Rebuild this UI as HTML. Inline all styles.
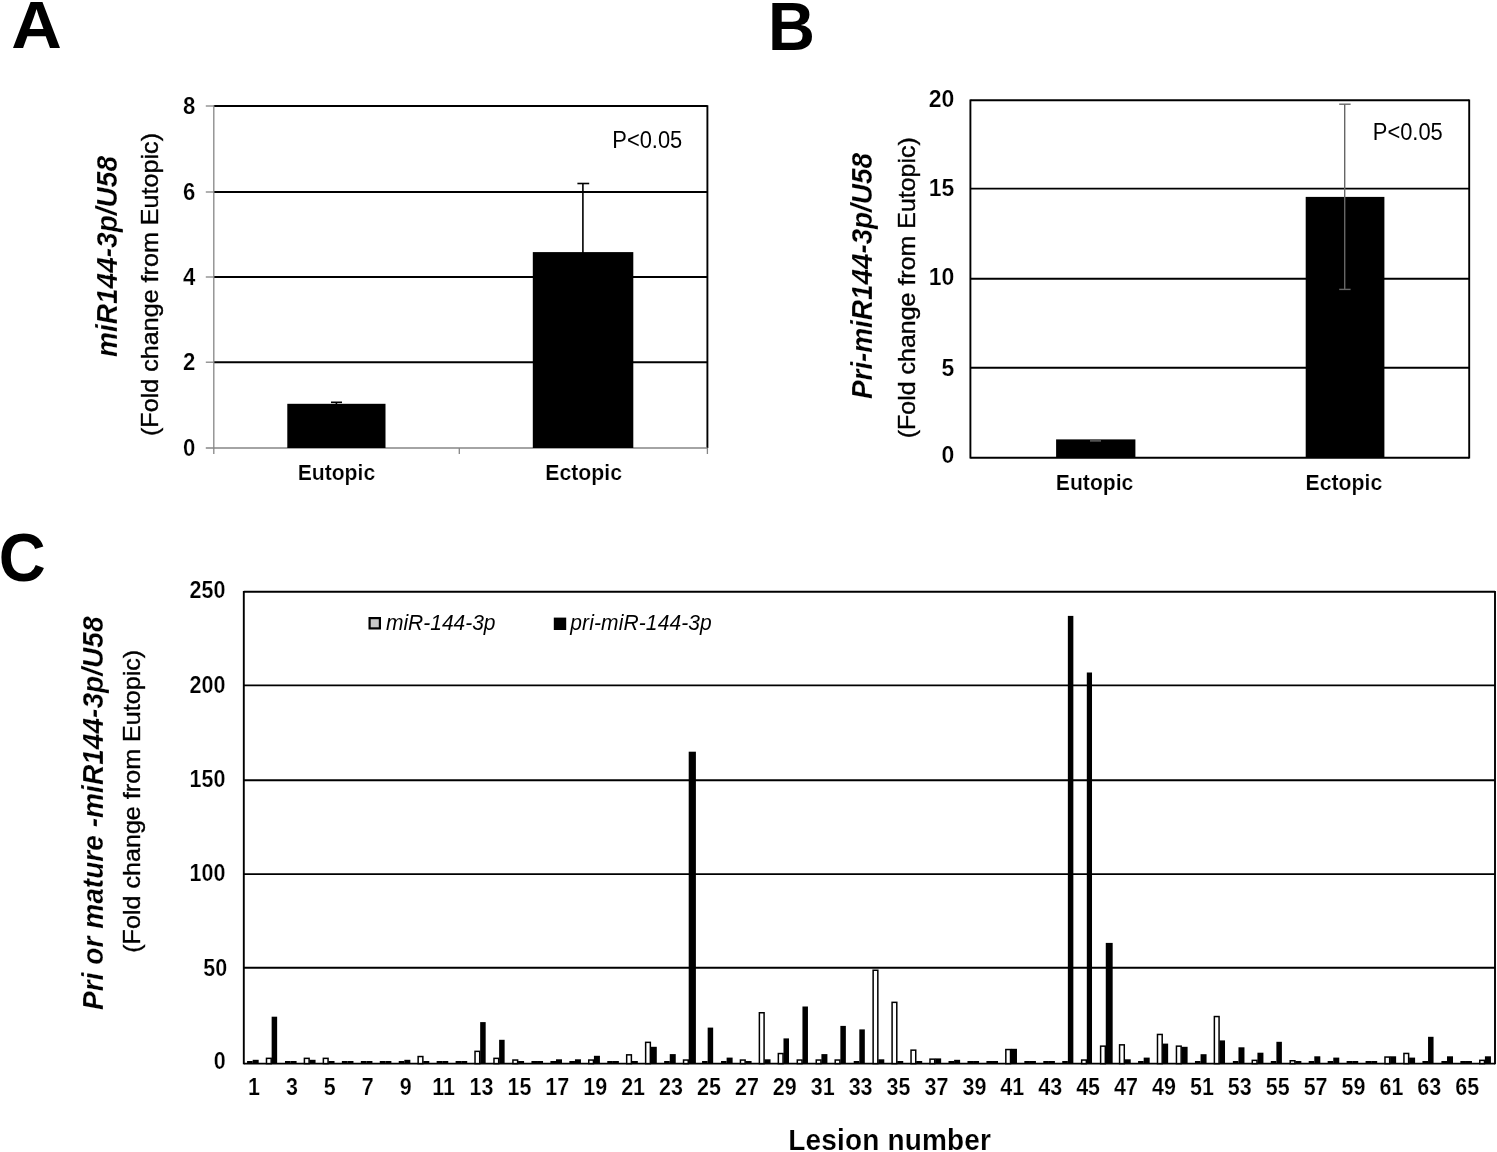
<!DOCTYPE html>
<html lang="en">
<head>
<meta charset="utf-8">
<title>Figure</title>
<style>
html,body{margin:0;padding:0;background:#fff;}
body{width:1497px;height:1152px;overflow:hidden;}
svg{display:block;font-family:"Liberation Sans", sans-serif;}
</style>
</head>
<body>
<svg width="1497" height="1152" viewBox="0 0 1497 1152">
<rect width="1497" height="1152" fill="#fff"/>
<g id="panelA">
<text transform="translate(11.25 48.2) scale(1.078 1.04)" font-size="65" font-weight="bold">A</text>
<line x1="213.8" y1="106" x2="707.4" y2="106" stroke="#000" stroke-width="1.9"/>
<line x1="213.8" y1="192" x2="707.4" y2="192" stroke="#000" stroke-width="1.9"/>
<line x1="213.8" y1="277" x2="707.4" y2="277" stroke="#000" stroke-width="1.9"/>
<line x1="213.8" y1="362.2" x2="707.4" y2="362.2" stroke="#000" stroke-width="1.9"/>
<line x1="707.4" y1="105.25" x2="707.4" y2="448" stroke="#000" stroke-width="1.9"/>
<line x1="213.8" y1="105.25" x2="213.8" y2="454" stroke="#868686" stroke-width="1.3"/>
<line x1="205.8" y1="448" x2="707.4" y2="448" stroke="#868686" stroke-width="1.3"/>
<line x1="205.8" y1="106" x2="213.8" y2="106" stroke="#868686" stroke-width="1.3"/>
<line x1="205.8" y1="192" x2="213.8" y2="192" stroke="#868686" stroke-width="1.3"/>
<line x1="205.8" y1="277" x2="213.8" y2="277" stroke="#868686" stroke-width="1.3"/>
<line x1="205.8" y1="362.2" x2="213.8" y2="362.2" stroke="#868686" stroke-width="1.3"/>
<line x1="459.3" y1="448" x2="459.3" y2="454" stroke="#868686" stroke-width="1.3"/>
<line x1="707.4" y1="448" x2="707.4" y2="454" stroke="#868686" stroke-width="1.3"/>
<rect x="287.30" y="403.80" width="98.20" height="44.20" fill="#000"/>
<rect x="532.80" y="252.10" width="100.50" height="195.90" fill="#000"/>
<line x1="582.9" y1="183.5" x2="582.9" y2="253" stroke="#000" stroke-width="1.6"/>
<line x1="577.4" y1="183.5" x2="589.2" y2="183.5" stroke="#000" stroke-width="1.6"/>
<line x1="336.4" y1="402.3" x2="336.4" y2="404" stroke="#000" stroke-width="1.6"/>
<line x1="331" y1="402.3" x2="342" y2="402.3" stroke="#000" stroke-width="1.6"/>
<text transform="translate(195.4 113.7) scale(1.03 1.14)" font-size="21.5" font-weight="bold" text-anchor="end" fill="#000" stroke="#fff" stroke-width="0.2">8</text>
<text transform="translate(195.4 199.60000000000002) scale(1.03 1.14)" font-size="21.5" font-weight="bold" text-anchor="end" fill="#000" stroke="#fff" stroke-width="0.2">6</text>
<text transform="translate(195.4 284.5) scale(1.03 1.14)" font-size="21.5" font-weight="bold" text-anchor="end" fill="#000" stroke="#fff" stroke-width="0.2">4</text>
<text transform="translate(195.4 370.2) scale(1.03 1.14)" font-size="21.5" font-weight="bold" text-anchor="end" fill="#000" stroke="#fff" stroke-width="0.2">2</text>
<text transform="translate(195.4 455.6) scale(1.03 1.14)" font-size="21.5" font-weight="bold" text-anchor="end" fill="#000" stroke="#fff" stroke-width="0.2">0</text>
<text transform="translate(336.4 480) scale(1 1.05)" font-size="21.5" font-weight="bold" text-anchor="middle" textLength="77.5" lengthAdjust="spacingAndGlyphs" fill="#000" stroke="#fff" stroke-width="0.2">Eutopic</text>
<text transform="translate(583.6 480) scale(1 1.05)" font-size="21.5" font-weight="bold" text-anchor="middle" textLength="76.8" lengthAdjust="spacingAndGlyphs" fill="#000" stroke="#fff" stroke-width="0.2">Ectopic</text>
<text transform="translate(612.3 147.5) scale(1 1.12)" font-size="21" textLength="70" lengthAdjust="spacingAndGlyphs" fill="#000">P&lt;0.05</text>
<text transform="translate(116.8 357) rotate(-90) scale(1 1.04)" font-size="28" font-weight="bold" font-style="italic" textLength="201" lengthAdjust="spacing" fill="#000" stroke="#fff" stroke-width="0.2">miR144-3p/U58</text>
<text transform="translate(158.2 436) rotate(-90) scale(1 1.04)" font-size="22.3" textLength="303" lengthAdjust="spacingAndGlyphs" fill="#000" stroke="#000" stroke-width="0.35">(Fold change from Eutopic)</text>
</g>
<g id="panelB">
<text transform="translate(768.1 50.4) scale(1 1.04)" font-size="65" font-weight="bold" fill="#000">B</text>
<line x1="970.4" y1="100.3" x2="1469.2" y2="100.3" stroke="#000" stroke-width="1.9"/>
<line x1="970.4" y1="188.6" x2="1469.2" y2="188.6" stroke="#000" stroke-width="1.9"/>
<line x1="970.4" y1="278.8" x2="1469.2" y2="278.8" stroke="#000" stroke-width="1.9"/>
<line x1="970.4" y1="367.7" x2="1469.2" y2="367.7" stroke="#000" stroke-width="1.9"/>
<line x1="970.4" y1="457.8" x2="1469.2" y2="457.8" stroke="#000" stroke-width="1.9"/>
<line x1="970.4" y1="99.55" x2="970.4" y2="458.55" stroke="#000" stroke-width="1.9"/>
<line x1="1469.2" y1="99.55" x2="1469.2" y2="458.55" stroke="#000" stroke-width="1.9"/>
<rect x="1056.10" y="439.40" width="79.30" height="18.40" fill="#000"/>
<rect x="1305.70" y="196.90" width="78.70" height="260.90" fill="#000"/>
<line x1="1344.7" y1="104.2" x2="1344.7" y2="289.4" stroke="#666" stroke-width="1.4"/>
<line x1="1339.2" y1="104.2" x2="1350.6" y2="104.2" stroke="#666" stroke-width="1.4"/>
<line x1="1339.2" y1="289.4" x2="1350.6" y2="289.4" stroke="#666" stroke-width="1.4"/>
<line x1="1090" y1="440.9" x2="1101" y2="440.9" stroke="#666" stroke-width="1.4"/>
<text transform="translate(954.2 106.8) scale(1.07 1.14)" font-size="21.5" font-weight="bold" text-anchor="end" fill="#000" stroke="#fff" stroke-width="0.2">20</text>
<text transform="translate(954.2 196.3) scale(1.07 1.14)" font-size="21.5" font-weight="bold" text-anchor="end" fill="#000" stroke="#fff" stroke-width="0.2">15</text>
<text transform="translate(954.2 285.3) scale(1.07 1.14)" font-size="21.5" font-weight="bold" text-anchor="end" fill="#000" stroke="#fff" stroke-width="0.2">10</text>
<text transform="translate(954.2 376) scale(1.07 1.14)" font-size="21.5" font-weight="bold" text-anchor="end" fill="#000" stroke="#fff" stroke-width="0.2">5</text>
<text transform="translate(954.2 463.2) scale(1.07 1.14)" font-size="21.5" font-weight="bold" text-anchor="end" fill="#000" stroke="#fff" stroke-width="0.2">0</text>
<text transform="translate(1094.6 489.9) scale(1 1.05)" font-size="21.5" font-weight="bold" text-anchor="middle" textLength="77.5" lengthAdjust="spacingAndGlyphs" fill="#000" stroke="#fff" stroke-width="0.2">Eutopic</text>
<text transform="translate(1343.9 490.1) scale(1 1.05)" font-size="21.5" font-weight="bold" text-anchor="middle" textLength="76.8" lengthAdjust="spacingAndGlyphs" fill="#000" stroke="#fff" stroke-width="0.2">Ectopic</text>
<text transform="translate(1372.8 140.3) scale(1 1.12)" font-size="21" textLength="70" lengthAdjust="spacingAndGlyphs" fill="#000">P&lt;0.05</text>
<text transform="translate(871.7 399) rotate(-90) scale(1 1.04)" font-size="28" font-weight="bold" font-style="italic" textLength="246" lengthAdjust="spacing" fill="#000" stroke="#fff" stroke-width="0.2">Pri-miR144-3p/U58</text>
<text transform="translate(914.8 438.2) rotate(-90) scale(1 1.04)" font-size="22.3" textLength="301" lengthAdjust="spacingAndGlyphs" fill="#000" stroke="#000" stroke-width="0.35">(Fold change from Eutopic)</text>
</g>
<g id="panelC">
<text transform="translate(-1.2 580.8) scale(1 1.04)" font-size="65" font-weight="bold" fill="#000">C</text>
<line x1="243.8" y1="591.8" x2="1495" y2="591.8" stroke="#000" stroke-width="1.9"/>
<line x1="243.8" y1="685.4" x2="1495" y2="685.4" stroke="#000" stroke-width="1.9"/>
<line x1="243.8" y1="780.2" x2="1495" y2="780.2" stroke="#000" stroke-width="1.9"/>
<line x1="243.8" y1="874.1" x2="1495" y2="874.1" stroke="#000" stroke-width="1.9"/>
<line x1="243.8" y1="967.8" x2="1495" y2="967.8" stroke="#000" stroke-width="1.9"/>
<line x1="243.8" y1="1063.6" x2="1495" y2="1063.6" stroke="#000" stroke-width="1.9"/>
<line x1="243.8" y1="591.05" x2="243.8" y2="1064.35" stroke="#000" stroke-width="1.9"/>
<line x1="1495" y1="591.05" x2="1495" y2="1064.35" stroke="#000" stroke-width="1.9"/>
<text transform="translate(225.4 598) scale(1 1.14)" font-size="21.5" font-weight="bold" text-anchor="end" fill="#000" stroke="#fff" stroke-width="0.2">250</text>
<text transform="translate(225.4 693) scale(1 1.14)" font-size="21.5" font-weight="bold" text-anchor="end" fill="#000" stroke="#fff" stroke-width="0.2">200</text>
<text transform="translate(225.4 787) scale(1 1.14)" font-size="21.5" font-weight="bold" text-anchor="end" fill="#000" stroke="#fff" stroke-width="0.2">150</text>
<text transform="translate(225.4 881) scale(1 1.14)" font-size="21.5" font-weight="bold" text-anchor="end" fill="#000" stroke="#fff" stroke-width="0.2">100</text>
<text transform="translate(227.1 975.8) scale(1 1.14)" font-size="21.5" font-weight="bold" text-anchor="end" fill="#000" stroke="#fff" stroke-width="0.2">50</text>
<text transform="translate(225.8 1069.1) scale(1 1.14)" font-size="21.5" font-weight="bold" text-anchor="end" fill="#000" stroke="#fff" stroke-width="0.2">0</text>
<g>
<rect x="247.08" y="1061.00" width="5.60" height="2.60" fill="#000"/>
<rect x="252.68" y="1059.80" width="6.00" height="3.80" fill="#000"/>
<rect x="266.49" y="1058.35" width="4.70" height="5.25" fill="#fff" stroke="#000" stroke-width="1.5"/>
<rect x="271.64" y="1016.70" width="5.50" height="46.90" fill="#000"/>
<rect x="284.99" y="1061.00" width="5.60" height="2.60" fill="#000"/>
<rect x="290.59" y="1061.00" width="6.00" height="2.60" fill="#000"/>
<rect x="304.40" y="1058.35" width="4.70" height="5.25" fill="#fff" stroke="#000" stroke-width="1.5"/>
<rect x="309.55" y="1059.80" width="6.00" height="3.80" fill="#000"/>
<rect x="323.36" y="1058.35" width="4.70" height="5.25" fill="#fff" stroke="#000" stroke-width="1.5"/>
<rect x="328.51" y="1061.00" width="6.00" height="2.60" fill="#000"/>
<rect x="341.87" y="1061.00" width="5.60" height="2.60" fill="#000"/>
<rect x="347.47" y="1061.00" width="6.00" height="2.60" fill="#000"/>
<rect x="360.82" y="1061.00" width="5.60" height="2.60" fill="#000"/>
<rect x="366.42" y="1061.00" width="6.00" height="2.60" fill="#000"/>
<rect x="379.78" y="1061.00" width="5.60" height="2.60" fill="#000"/>
<rect x="385.38" y="1061.00" width="6.00" height="2.60" fill="#000"/>
<rect x="398.74" y="1061.00" width="5.60" height="2.60" fill="#000"/>
<rect x="404.34" y="1059.80" width="6.00" height="3.80" fill="#000"/>
<rect x="418.15" y="1056.55" width="4.70" height="7.05" fill="#fff" stroke="#000" stroke-width="1.5"/>
<rect x="423.30" y="1061.00" width="6.00" height="2.60" fill="#000"/>
<rect x="436.65" y="1061.00" width="5.60" height="2.60" fill="#000"/>
<rect x="442.25" y="1061.00" width="6.00" height="2.60" fill="#000"/>
<rect x="455.61" y="1061.00" width="5.60" height="2.60" fill="#000"/>
<rect x="461.21" y="1061.00" width="6.00" height="2.60" fill="#000"/>
<rect x="475.02" y="1051.35" width="4.70" height="12.25" fill="#fff" stroke="#000" stroke-width="1.5"/>
<rect x="480.17" y="1022.10" width="5.50" height="41.50" fill="#000"/>
<rect x="493.98" y="1058.35" width="4.70" height="5.25" fill="#fff" stroke="#000" stroke-width="1.5"/>
<rect x="499.13" y="1039.80" width="5.50" height="23.80" fill="#000"/>
<rect x="512.93" y="1060.05" width="4.70" height="3.55" fill="#fff" stroke="#000" stroke-width="1.5"/>
<rect x="518.08" y="1061.00" width="6.00" height="2.60" fill="#000"/>
<rect x="531.44" y="1061.00" width="5.60" height="2.60" fill="#000"/>
<rect x="537.04" y="1061.00" width="6.00" height="2.60" fill="#000"/>
<rect x="550.40" y="1061.00" width="5.60" height="2.60" fill="#000"/>
<rect x="556.00" y="1059.30" width="6.00" height="4.30" fill="#000"/>
<rect x="569.36" y="1061.00" width="5.60" height="2.60" fill="#000"/>
<rect x="574.96" y="1059.30" width="6.00" height="4.30" fill="#000"/>
<rect x="588.77" y="1060.05" width="4.70" height="3.55" fill="#fff" stroke="#000" stroke-width="1.5"/>
<rect x="593.92" y="1055.80" width="6.00" height="7.80" fill="#000"/>
<rect x="607.27" y="1061.00" width="5.60" height="2.60" fill="#000"/>
<rect x="612.87" y="1061.00" width="6.00" height="2.60" fill="#000"/>
<rect x="626.68" y="1054.85" width="4.70" height="8.75" fill="#fff" stroke="#000" stroke-width="1.5"/>
<rect x="631.83" y="1061.00" width="6.00" height="2.60" fill="#000"/>
<rect x="645.64" y="1042.35" width="4.70" height="21.25" fill="#fff" stroke="#000" stroke-width="1.5"/>
<rect x="650.79" y="1046.80" width="6.00" height="16.80" fill="#000"/>
<rect x="664.15" y="1061.00" width="5.60" height="2.60" fill="#000"/>
<rect x="669.75" y="1054.10" width="6.00" height="9.50" fill="#000"/>
<rect x="683.55" y="1060.05" width="4.70" height="3.55" fill="#fff" stroke="#000" stroke-width="1.5"/>
<rect x="688.70" y="751.70" width="7.20" height="311.90" fill="#000"/>
<rect x="702.06" y="1061.00" width="5.60" height="2.60" fill="#000"/>
<rect x="707.66" y="1027.60" width="5.50" height="36.00" fill="#000"/>
<rect x="721.02" y="1061.00" width="5.60" height="2.60" fill="#000"/>
<rect x="726.62" y="1057.60" width="6.00" height="6.00" fill="#000"/>
<rect x="740.43" y="1060.05" width="4.70" height="3.55" fill="#fff" stroke="#000" stroke-width="1.5"/>
<rect x="745.58" y="1061.00" width="6.00" height="2.60" fill="#000"/>
<rect x="759.38" y="1012.75" width="4.70" height="50.85" fill="#fff" stroke="#000" stroke-width="1.5"/>
<rect x="764.53" y="1059.30" width="6.00" height="4.30" fill="#000"/>
<rect x="778.34" y="1053.55" width="4.70" height="10.05" fill="#fff" stroke="#000" stroke-width="1.5"/>
<rect x="783.49" y="1038.40" width="5.50" height="25.20" fill="#000"/>
<rect x="797.30" y="1060.05" width="4.70" height="3.55" fill="#fff" stroke="#000" stroke-width="1.5"/>
<rect x="802.45" y="1006.50" width="5.50" height="57.10" fill="#000"/>
<rect x="816.26" y="1060.05" width="4.70" height="3.55" fill="#fff" stroke="#000" stroke-width="1.5"/>
<rect x="821.41" y="1054.10" width="6.00" height="9.50" fill="#000"/>
<rect x="835.21" y="1060.05" width="4.70" height="3.55" fill="#fff" stroke="#000" stroke-width="1.5"/>
<rect x="840.36" y="1025.90" width="5.50" height="37.70" fill="#000"/>
<rect x="853.72" y="1061.00" width="5.60" height="2.60" fill="#000"/>
<rect x="859.32" y="1029.40" width="5.50" height="34.20" fill="#000"/>
<rect x="873.13" y="970.25" width="4.70" height="93.35" fill="#fff" stroke="#000" stroke-width="1.5"/>
<rect x="878.28" y="1059.30" width="6.00" height="4.30" fill="#000"/>
<rect x="892.09" y="1002.35" width="4.70" height="61.25" fill="#fff" stroke="#000" stroke-width="1.5"/>
<rect x="897.24" y="1061.00" width="6.00" height="2.60" fill="#000"/>
<rect x="911.04" y="1050.15" width="4.70" height="13.45" fill="#fff" stroke="#000" stroke-width="1.5"/>
<rect x="916.19" y="1061.00" width="6.00" height="2.60" fill="#000"/>
<rect x="930.00" y="1059.15" width="4.70" height="4.45" fill="#fff" stroke="#000" stroke-width="1.5"/>
<rect x="935.15" y="1058.40" width="6.00" height="5.20" fill="#000"/>
<rect x="948.51" y="1061.00" width="5.60" height="2.60" fill="#000"/>
<rect x="954.11" y="1059.80" width="6.00" height="3.80" fill="#000"/>
<rect x="967.47" y="1061.00" width="5.60" height="2.60" fill="#000"/>
<rect x="973.07" y="1061.00" width="6.00" height="2.60" fill="#000"/>
<rect x="986.42" y="1061.00" width="5.60" height="2.60" fill="#000"/>
<rect x="992.02" y="1061.00" width="6.00" height="2.60" fill="#000"/>
<rect x="1005.83" y="1049.55" width="4.70" height="14.05" fill="#fff" stroke="#000" stroke-width="1.5"/>
<rect x="1010.98" y="1048.80" width="6.00" height="14.80" fill="#000"/>
<rect x="1024.34" y="1061.00" width="5.60" height="2.60" fill="#000"/>
<rect x="1029.94" y="1061.00" width="6.00" height="2.60" fill="#000"/>
<rect x="1043.30" y="1061.00" width="5.60" height="2.60" fill="#000"/>
<rect x="1048.90" y="1061.00" width="6.00" height="2.60" fill="#000"/>
<rect x="1062.25" y="1061.00" width="5.60" height="2.60" fill="#000"/>
<rect x="1067.85" y="615.90" width="5.50" height="447.70" fill="#000"/>
<rect x="1081.66" y="1060.05" width="4.70" height="3.55" fill="#fff" stroke="#000" stroke-width="1.5"/>
<rect x="1086.81" y="672.50" width="5.20" height="391.10" fill="#000"/>
<rect x="1100.62" y="1046.15" width="4.70" height="17.45" fill="#fff" stroke="#000" stroke-width="1.5"/>
<rect x="1105.77" y="942.90" width="6.90" height="120.70" fill="#000"/>
<rect x="1119.58" y="1044.85" width="4.70" height="18.75" fill="#fff" stroke="#000" stroke-width="1.5"/>
<rect x="1124.73" y="1059.30" width="6.00" height="4.30" fill="#000"/>
<rect x="1138.08" y="1061.00" width="5.60" height="2.60" fill="#000"/>
<rect x="1143.68" y="1057.60" width="6.00" height="6.00" fill="#000"/>
<rect x="1157.49" y="1034.45" width="4.70" height="29.15" fill="#fff" stroke="#000" stroke-width="1.5"/>
<rect x="1162.64" y="1043.60" width="5.50" height="20.00" fill="#000"/>
<rect x="1176.45" y="1046.15" width="4.70" height="17.45" fill="#fff" stroke="#000" stroke-width="1.5"/>
<rect x="1181.60" y="1046.80" width="6.00" height="16.80" fill="#000"/>
<rect x="1194.96" y="1061.00" width="5.60" height="2.60" fill="#000"/>
<rect x="1200.56" y="1054.20" width="6.00" height="9.40" fill="#000"/>
<rect x="1214.37" y="1016.55" width="4.70" height="47.05" fill="#fff" stroke="#000" stroke-width="1.5"/>
<rect x="1219.52" y="1040.40" width="5.50" height="23.20" fill="#000"/>
<rect x="1232.87" y="1061.00" width="5.60" height="2.60" fill="#000"/>
<rect x="1238.47" y="1047.30" width="6.00" height="16.30" fill="#000"/>
<rect x="1252.28" y="1060.35" width="4.70" height="3.25" fill="#fff" stroke="#000" stroke-width="1.5"/>
<rect x="1257.43" y="1052.70" width="6.00" height="10.90" fill="#000"/>
<rect x="1270.79" y="1061.00" width="5.60" height="2.60" fill="#000"/>
<rect x="1276.39" y="1041.80" width="5.50" height="21.80" fill="#000"/>
<rect x="1290.20" y="1060.75" width="4.70" height="2.85" fill="#fff" stroke="#000" stroke-width="1.5"/>
<rect x="1295.35" y="1061.00" width="6.00" height="2.60" fill="#000"/>
<rect x="1308.70" y="1061.00" width="5.60" height="2.60" fill="#000"/>
<rect x="1314.30" y="1056.30" width="6.00" height="7.30" fill="#000"/>
<rect x="1327.66" y="1061.00" width="5.60" height="2.60" fill="#000"/>
<rect x="1333.26" y="1057.60" width="6.00" height="6.00" fill="#000"/>
<rect x="1346.62" y="1061.00" width="5.60" height="2.60" fill="#000"/>
<rect x="1352.22" y="1061.00" width="6.00" height="2.60" fill="#000"/>
<rect x="1365.58" y="1061.00" width="5.60" height="2.60" fill="#000"/>
<rect x="1371.18" y="1061.00" width="6.00" height="2.60" fill="#000"/>
<rect x="1384.98" y="1057.05" width="4.70" height="6.55" fill="#fff" stroke="#000" stroke-width="1.5"/>
<rect x="1390.13" y="1056.30" width="6.00" height="7.30" fill="#000"/>
<rect x="1403.94" y="1053.45" width="4.70" height="10.15" fill="#fff" stroke="#000" stroke-width="1.5"/>
<rect x="1409.09" y="1057.60" width="6.00" height="6.00" fill="#000"/>
<rect x="1422.45" y="1061.00" width="5.60" height="2.60" fill="#000"/>
<rect x="1428.05" y="1036.80" width="5.50" height="26.80" fill="#000"/>
<rect x="1441.41" y="1061.00" width="5.60" height="2.60" fill="#000"/>
<rect x="1447.01" y="1056.30" width="6.00" height="7.30" fill="#000"/>
<rect x="1460.36" y="1061.00" width="5.60" height="2.60" fill="#000"/>
<rect x="1465.96" y="1061.00" width="6.00" height="2.60" fill="#000"/>
<rect x="1479.77" y="1060.35" width="4.70" height="3.25" fill="#fff" stroke="#000" stroke-width="1.5"/>
<rect x="1484.92" y="1056.30" width="6.00" height="7.30" fill="#000"/>
</g>
<text transform="translate(254.0 1094.8) scale(1 1.14)" font-size="21.5" font-weight="bold" text-anchor="middle" fill="#000" stroke="#fff" stroke-width="0.2">1</text>
<text transform="translate(291.9 1094.8) scale(1 1.14)" font-size="21.5" font-weight="bold" text-anchor="middle" fill="#000" stroke="#fff" stroke-width="0.2">3</text>
<text transform="translate(329.8 1094.8) scale(1 1.14)" font-size="21.5" font-weight="bold" text-anchor="middle" fill="#000" stroke="#fff" stroke-width="0.2">5</text>
<text transform="translate(367.7 1094.8) scale(1 1.14)" font-size="21.5" font-weight="bold" text-anchor="middle" fill="#000" stroke="#fff" stroke-width="0.2">7</text>
<text transform="translate(405.6 1094.8) scale(1 1.14)" font-size="21.5" font-weight="bold" text-anchor="middle" fill="#000" stroke="#fff" stroke-width="0.2">9</text>
<text transform="translate(443.6 1094.8) scale(1 1.14)" font-size="21.5" font-weight="bold" text-anchor="middle" fill="#000" stroke="#fff" stroke-width="0.2">11</text>
<text transform="translate(481.5 1094.8) scale(1 1.14)" font-size="21.5" font-weight="bold" text-anchor="middle" fill="#000" stroke="#fff" stroke-width="0.2">13</text>
<text transform="translate(519.4 1094.8) scale(1 1.14)" font-size="21.5" font-weight="bold" text-anchor="middle" fill="#000" stroke="#fff" stroke-width="0.2">15</text>
<text transform="translate(557.3 1094.8) scale(1 1.14)" font-size="21.5" font-weight="bold" text-anchor="middle" fill="#000" stroke="#fff" stroke-width="0.2">17</text>
<text transform="translate(595.2 1094.8) scale(1 1.14)" font-size="21.5" font-weight="bold" text-anchor="middle" fill="#000" stroke="#fff" stroke-width="0.2">19</text>
<text transform="translate(633.1 1094.8) scale(1 1.14)" font-size="21.5" font-weight="bold" text-anchor="middle" fill="#000" stroke="#fff" stroke-width="0.2">21</text>
<text transform="translate(671.0 1094.8) scale(1 1.14)" font-size="21.5" font-weight="bold" text-anchor="middle" fill="#000" stroke="#fff" stroke-width="0.2">23</text>
<text transform="translate(709.0 1094.8) scale(1 1.14)" font-size="21.5" font-weight="bold" text-anchor="middle" fill="#000" stroke="#fff" stroke-width="0.2">25</text>
<text transform="translate(746.9 1094.8) scale(1 1.14)" font-size="21.5" font-weight="bold" text-anchor="middle" fill="#000" stroke="#fff" stroke-width="0.2">27</text>
<text transform="translate(784.8 1094.8) scale(1 1.14)" font-size="21.5" font-weight="bold" text-anchor="middle" fill="#000" stroke="#fff" stroke-width="0.2">29</text>
<text transform="translate(822.7 1094.8) scale(1 1.14)" font-size="21.5" font-weight="bold" text-anchor="middle" fill="#000" stroke="#fff" stroke-width="0.2">31</text>
<text transform="translate(860.6 1094.8) scale(1 1.14)" font-size="21.5" font-weight="bold" text-anchor="middle" fill="#000" stroke="#fff" stroke-width="0.2">33</text>
<text transform="translate(898.5 1094.8) scale(1 1.14)" font-size="21.5" font-weight="bold" text-anchor="middle" fill="#000" stroke="#fff" stroke-width="0.2">35</text>
<text transform="translate(936.5 1094.8) scale(1 1.14)" font-size="21.5" font-weight="bold" text-anchor="middle" fill="#000" stroke="#fff" stroke-width="0.2">37</text>
<text transform="translate(974.4 1094.8) scale(1 1.14)" font-size="21.5" font-weight="bold" text-anchor="middle" fill="#000" stroke="#fff" stroke-width="0.2">39</text>
<text transform="translate(1012.3 1094.8) scale(1 1.14)" font-size="21.5" font-weight="bold" text-anchor="middle" fill="#000" stroke="#fff" stroke-width="0.2">41</text>
<text transform="translate(1050.2 1094.8) scale(1 1.14)" font-size="21.5" font-weight="bold" text-anchor="middle" fill="#000" stroke="#fff" stroke-width="0.2">43</text>
<text transform="translate(1088.1 1094.8) scale(1 1.14)" font-size="21.5" font-weight="bold" text-anchor="middle" fill="#000" stroke="#fff" stroke-width="0.2">45</text>
<text transform="translate(1126.0 1094.8) scale(1 1.14)" font-size="21.5" font-weight="bold" text-anchor="middle" fill="#000" stroke="#fff" stroke-width="0.2">47</text>
<text transform="translate(1163.9 1094.8) scale(1 1.14)" font-size="21.5" font-weight="bold" text-anchor="middle" fill="#000" stroke="#fff" stroke-width="0.2">49</text>
<text transform="translate(1201.9 1094.8) scale(1 1.14)" font-size="21.5" font-weight="bold" text-anchor="middle" fill="#000" stroke="#fff" stroke-width="0.2">51</text>
<text transform="translate(1239.8 1094.8) scale(1 1.14)" font-size="21.5" font-weight="bold" text-anchor="middle" fill="#000" stroke="#fff" stroke-width="0.2">53</text>
<text transform="translate(1277.7 1094.8) scale(1 1.14)" font-size="21.5" font-weight="bold" text-anchor="middle" fill="#000" stroke="#fff" stroke-width="0.2">55</text>
<text transform="translate(1315.6 1094.8) scale(1 1.14)" font-size="21.5" font-weight="bold" text-anchor="middle" fill="#000" stroke="#fff" stroke-width="0.2">57</text>
<text transform="translate(1353.5 1094.8) scale(1 1.14)" font-size="21.5" font-weight="bold" text-anchor="middle" fill="#000" stroke="#fff" stroke-width="0.2">59</text>
<text transform="translate(1391.4 1094.8) scale(1 1.14)" font-size="21.5" font-weight="bold" text-anchor="middle" fill="#000" stroke="#fff" stroke-width="0.2">61</text>
<text transform="translate(1429.3 1094.8) scale(1 1.14)" font-size="21.5" font-weight="bold" text-anchor="middle" fill="#000" stroke="#fff" stroke-width="0.2">63</text>
<text transform="translate(1467.3 1094.8) scale(1 1.14)" font-size="21.5" font-weight="bold" text-anchor="middle" fill="#000" stroke="#fff" stroke-width="0.2">65</text>
<rect x="369.60" y="618.10" width="10.30" height="10.30" fill="#c8c8c8" stroke="#000" stroke-width="2.2"/>
<text transform="translate(386 629.5) scale(1 1.04)" font-size="21" font-style="italic" textLength="109.5" lengthAdjust="spacing" fill="#000">miR-144-3p</text>
<rect x="553.80" y="617.60" width="12.40" height="12.40" fill="#000"/>
<text transform="translate(570.3 629.5) scale(1 1.04)" font-size="21" font-style="italic" textLength="141.5" lengthAdjust="spacing" fill="#000">pri-miR-144-3p</text>
<text transform="translate(889.6 1149.7) scale(1 1.04)" font-size="28" font-weight="bold" text-anchor="middle" textLength="202.5" lengthAdjust="spacing" fill="#000" stroke="#fff" stroke-width="0.15">Lesion number</text>
<text transform="translate(103.0 1010) rotate(-90) scale(1 1.04)" font-size="28" font-weight="bold" font-style="italic" textLength="393.5" lengthAdjust="spacing" fill="#000" stroke="#fff" stroke-width="0.2">Pri or mature -miR144-3p/U58</text>
<text transform="translate(139.9 952.8) rotate(-90) scale(1 1.04)" font-size="22.3" textLength="303" lengthAdjust="spacingAndGlyphs" fill="#000" stroke="#000" stroke-width="0.35">(Fold change from Eutopic)</text>
</g>
</svg>
</body>
</html>
